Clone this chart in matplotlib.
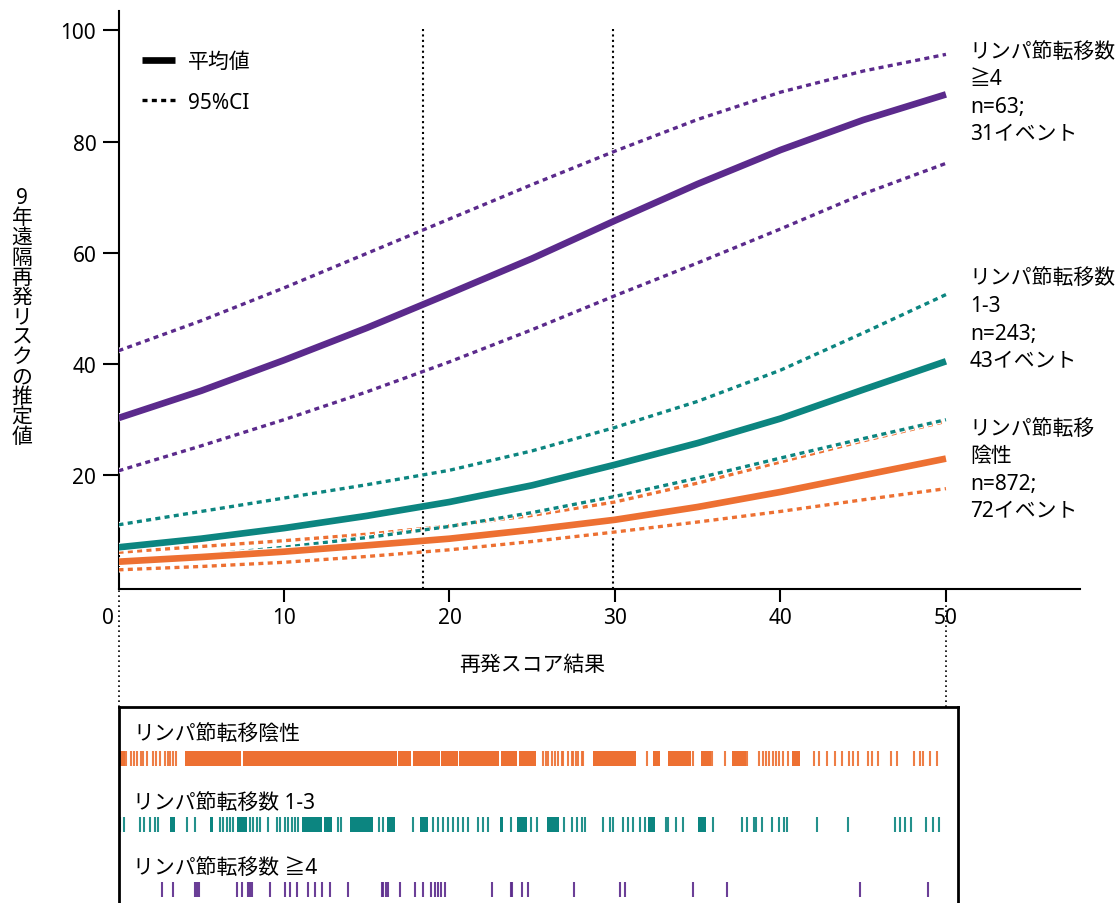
import matplotlib
matplotlib.use('Agg')
import matplotlib.pyplot as plt
import matplotlib.patheffects as pe
from matplotlib.lines import Line2D

plt.rcParams['font.family'] = ['Noto Sans', 'Noto Sans CJK JP', 'DejaVu Sans']
plt.rcParams['font.size'] = 15

# --- curve data (recurrence score vs 9-yr distant recurrence risk, %) ---
score = [0, 5, 10, 15, 20, 25, 30, 35, 40, 45, 50]

neg_mean = [4.46, 5.3, 6.26, 7.4, 8.6, 10.2, 12.0, 14.3, 17.0, 20.0, 23.0]
neg_hi = [6.15, 7.2, 8.24, 9.4, 10.9, 12.8, 15.2, 18.6, 22.4, 26.2, 29.7]
neg_lo = [3.0, 3.6, 4.35, 5.4, 6.6, 8.1, 9.8, 11.6, 13.5, 15.6, 17.6]

n13_mean = [7.05, 8.6, 10.5, 12.7, 15.2, 18.2, 21.9, 25.8, 30.2, 35.4, 40.5]
n13_hi = [11.1, 13.5, 15.9, 18.3, 20.9, 24.4, 28.6, 33.3, 38.9, 45.6, 52.5]
n13_lo = [4.35, 5.6, 7.05, 8.8, 10.8, 13.3, 16.2, 19.5, 23.1, 26.6, 30.0]

n4_mean = [30.3, 35.2, 40.7, 46.5, 52.7, 59.0, 65.8, 72.4, 78.5, 83.9, 88.5]
n4_hi = [42.4, 47.8, 53.7, 59.9, 66.1, 72.3, 78.3, 84.0, 88.9, 92.7, 95.7]
n4_lo = [20.8, 25.3, 30.0, 35.0, 40.4, 46.2, 52.3, 58.2, 64.3, 70.6, 76.1]

cutoffs = [18.4, 29.9]

side_labels = ['リンパ節転移\n陰性\nn=872;\n72イベント',
               'リンパ節転移数\n1-3\nn=243;\n43イベント',
               'リンパ節転移数\n≧4\nn=63;\n31イベント']
side_label_y = [30.4, 57.4, 98.2]
rug_labels = ['リンパ節転移陰性', 'リンパ節転移数 1-3', 'リンパ節転移数 ≧4']

# --- rug data: individual scores and dense runs (start, end) ---
neg_ticks = [0.48, 0.73, 0.91, 1.09, 1.33, 1.51, 1.75, 2.06, 2.24, 2.48, 2.84, 2.97,
             3.09, 3.27, 3.45, 25.65, 25.83, 25.95, 26.2, 26.38, 26.56, 26.8, 26.86,
             27.16, 27.41, 27.47, 27.65, 27.77, 28.0, 28.07, 31.95, 34.73, 35.88,
             36.67, 38.0, 38.7, 38.94, 39.12, 39.3, 39.55, 39.73, 39.91, 40.15, 40.45,
             42.05, 42.36, 42.84, 43.32, 43.74, 44.16, 44.4, 44.7, 45.3, 45.55, 45.92,
             46.7, 47.07, 48.1, 48.46, 48.64, 49.06, 49.49]
neg_blocks = [(0.1, 0.4), (4.0, 7.4), (7.5, 16.8), (16.9, 17.7), (17.8, 19.4),
              (19.5, 20.5), (20.6, 23.0), (23.1, 24.1), (24.2, 25.2), (28.7, 31.3),
              (32.3, 32.7), (33.2, 34.6), (35.2, 35.8), (37.1, 37.9), (40.7, 41.2)]

n13_ticks = [0.12, 0.36, 1.27, 1.57, 1.88, 2.18, 2.36, 4.12, 4.6, 6.11, 6.3, 6.54,
             6.72, 6.9, 7.93, 8.11, 8.35, 8.53, 9.02, 9.56, 9.74, 10.05, 10.23, 10.47,
             10.65, 10.83, 13.25, 13.43, 15.73, 15.97, 17.79, 19.0, 19.3, 19.6, 19.9,
             20.2, 20.5, 20.8, 21.1, 21.7, 22.0, 22.3, 23.7, 24.9, 25.3, 26.9, 27.4,
             27.7, 28.0, 28.2, 29.3, 29.7, 29.9, 30.5, 30.8, 31.1, 31.5, 31.8, 33.1,
             33.2, 33.7, 34.1, 35.9, 37.7, 38.0, 38.4, 38.5, 38.9, 39.5, 39.9, 40.2,
             40.4, 42.2, 44.1, 46.9, 47.2, 47.5, 47.9, 48.8, 49.2, 49.6]
n13_blocks = [(3.09, 3.39), (5.5, 5.7), (7.14, 7.74), (11.1, 12.3), (12.4, 12.9),
              (14.0, 15.4), (16.2, 16.7), (18.2, 18.7), (23.05, 23.23), (24.1, 24.7),
              (25.9, 26.6), (32.0, 32.4), (35.0, 35.5)]

n4_ticks = [2.6, 3.27, 4.6, 4.72, 4.84, 7.14, 7.45, 7.81, 7.93, 8.05, 9.14, 10.05,
            10.35, 10.77, 11.44, 11.86, 12.28, 12.77, 13.86, 15.9, 16.0, 16.15, 16.3,
            17.0, 17.9, 18.4, 18.9, 19.1, 19.3, 19.5, 19.7, 22.6, 23.7, 23.8, 24.4,
            24.75, 27.5, 30.3, 30.6, 34.7, 36.8, 44.8, 48.9]
n4_blocks = []

c_neg = '#ed7032'
c_n13 = '#0c8580'
c_n4 = '#5b2a8c'

fig = plt.figure(figsize=(11.18, 9.04), dpi=100)
ax = fig.add_axes([118.5 / 1118, 314 / 904, 961.5 / 1118, 578 / 904])

halo = lambda w: [pe.Stroke(linewidth=w + 1.6, foreground='white'), pe.Normal()]
dot = (0, (1.5, 1.3))

series = [(neg_mean, neg_hi, neg_lo, c_neg),
          (n13_mean, n13_hi, n13_lo, c_n13),
          (n4_mean, n4_hi, n4_lo, c_n4)]
for mean, hi, lo, col in series:
    for ci in (hi, lo):
        ax.plot(score, ci, color=col, lw=2.4, ls=dot, path_effects=halo(2.4), zorder=3)
for mean, hi, lo, col in series:
    ax.plot(score, mean, color=col, lw=4.8, solid_capstyle='butt',
            solid_joinstyle='round', path_effects=halo(4.8), zorder=4)

for c in cutoffs:
    ax.plot([c, c], [-0.4, 100.3], color='black', lw=1.5, ls=(0, (1, 1.6)), zorder=2)

for txt, y in zip(side_labels, side_label_y):
    ax.text(51.45, y, txt, ha='left', va='top', clip_on=False, linespacing=1.42)

ax.set_xlim(0, 58.1)
ax.set_ylim(-0.45, 103.5)
ax.set_xticks([10, 20, 30, 40, 50])
ax.set_yticks([20, 40, 60, 80, 100])
ax.tick_params(axis='y', length=11.5, width=1.5, pad=4.5, labelsize=15)
ax.tick_params(axis='x', length=9.5, width=1.5, pad=3.5, labelsize=15)
for s in ['top', 'right']:
    ax.spines[s].set_visible(False)
for s in ['left', 'bottom']:
    ax.spines[s].set_linewidth(1.5)
ax.text(-0.65, -0.05, '0', transform=ax.get_xaxis_transform(), ha='center', va='center', fontsize=15)
ax.text(25, -0.13, '再発スコア結果', transform=ax.get_xaxis_transform(), ha='center', va='center', fontsize=15)

handles = [Line2D([], [], color='black', lw=4.8, solid_capstyle='butt'),
           Line2D([], [], color='black', lw=2.4, ls=dot)]
ax.legend(handles, ['平均値', '95%CI'], loc='upper left', bbox_to_anchor=(0.0244, 0.931),
          frameon=False, borderpad=0, borderaxespad=0, handlelength=1.6,
          handletextpad=0.62, labelspacing=0.95, fontsize=15)

fig.text(22 / 1118, 1 - 318 / 904, '\n'.join('9年遠隔再発リスクの推定値'),
         ha='center', va='center', linespacing=0.93, fontsize=15)

# --- rug box below ---
axr = fig.add_axes([118.5 / 1118, -18 / 904, 839.5 / 1118, 214 / 904])
axr.set_xlim(0, 50.73)
axr.set_ylim(214, 0)
axr.set_xticks([])
axr.set_yticks([])
for s in axr.spines.values():
    s.set_linewidth(2)

rows = [(neg_ticks, neg_blocks, c_neg, 44, rug_labels[0], 27),
        (n13_ticks, n13_blocks, c_n13, 110, rug_labels[1], 95),
        (n4_ticks, n4_blocks, c_n4, 175, rug_labels[2], 160)]
for ticks, blocks, col, y0, lab, ly in rows:
    axr.vlines(ticks, y0, y0 + 15, colors=col, lw=1.5, alpha=0.9)
    if blocks:
        axr.broken_barh([(a, b - a) for a, b in blocks], (y0, 15), facecolors=col)
    axr.text(0.88, ly, lab, ha='left', va='center', fontsize=15)

for xv in (0, 50):
    axr.plot([xv, xv], [0, -118], color='black', lw=1.2, ls=(0, (1, 2)), clip_on=False)

fig.savefig('out.png', dpi=100)
